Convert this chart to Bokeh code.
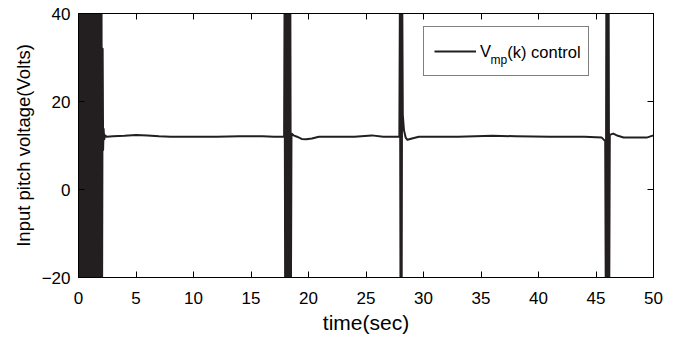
from bokeh.plotting import figure
from bokeh.models import (LinearAxis, FixedTicker, CustomJSTickFormatter, Legend,
                          LegendItem, Range1d)
from bokeh.core.properties import value
from bokeh.embed import file_html
from bokeh.resources import INLINE

# ---------------- data ----------------
x_ticks = [0, 5, 10, 15, 20, 25, 30, 35, 40, 45, 50]
y_ticks = [-20, 0, 20, 40]

# start-up oscillation burst (0 - 2.1 s)
time_burst0 = [0.00, 0.05, 0.10, 0.15, 0.20, 0.25, 0.30, 0.35, 0.40, 0.45, 0.50,
               0.55, 0.60, 0.65, 0.70, 0.75, 0.80, 0.85, 0.90, 0.95, 1.00, 1.05,
               1.10, 1.15, 1.20, 1.25, 1.30, 1.35, 1.40, 1.45, 1.50, 1.55, 1.60,
               1.65, 1.70, 1.75, 1.80, 1.85, 1.90, 1.95, 2.00, 2.05]
volt_burst0 = [45, -25, 45, -25, 45, -25, 45, -25, 45, -25, 45,
               -25, 45, -25, 45, -25, 45, -25, 45, -25, 45, -25,
               45, -25, 45, -25, 45, -25, 45, -25, 45, -25, 45,
               -25, 45, -25, 45, -25, 45, -25, 45, -25]
time_steady1 = [2.10, 2.14, 2.18, 2.24, 2.32, 2.45, 3.0, 4.0, 5.0, 6.0, 7.0,
                8.0, 10.0, 12.0, 14.0, 16.0, 17.0, 17.88]
volt_steady1 = [32, 9, 13.8, 11.4, 12.3, 12.0, 12.1, 12.2, 12.4, 12.3, 12.1,
                12.0, 12.0, 12.0, 12.1, 12.1, 12.0, 12.0]

# burst near 18 s
time_burst18 = [17.92, 17.97, 18.02, 18.07, 18.12, 18.17, 18.22, 18.27, 18.32,
                18.37, 18.42, 18.47]
volt_burst18 = [45, -25, 45, -25, 45, -25, 45, -25, 45, -25, 45, -25]
time_steady2 = [18.52, 18.7, 19.0, 19.4, 19.8, 20.3, 20.9, 22.0, 24.0, 25.5,
                26.5, 27.9]
volt_steady2 = [12.7, 12.3, 12.0, 11.5, 11.4, 11.6, 12.0, 12.0, 12.0, 12.3,
                12.0, 12.0]

# burst near 28 s
time_burst28 = [27.95, 28.00, 28.05, 28.10, 28.15]
volt_burst28 = [45, -25, 45, -25, 45]
time_steady3 = [28.2, 28.3, 28.45, 28.6, 29.0, 29.6, 31.0, 33.0, 36.0, 38.0,
                41.0, 44.0, 45.5, 45.8]
volt_steady3 = [17.0, 13.5, 11.8, 11.3, 11.6, 12.0, 12.0, 12.0, 12.2, 12.1,
                12.0, 12.0, 11.8, 11.0]

# burst near 46 s
time_burst46 = [45.85, 45.90, 45.95, 46.00, 46.05, 46.10, 46.15]
volt_burst46 = [-25, 45, -25, 45, -25, 45, -25]
time_steady4 = [46.2, 46.5, 46.9, 47.4, 48.5, 49.4, 50.0]
volt_steady4 = [12.4, 12.7, 12.2, 11.8, 11.8, 11.8, 12.3]

time_sec = (time_burst0 + time_steady1 + time_burst18 + time_steady2 +
            time_burst28 + time_steady3 + time_burst46 + time_steady4)
volt = (volt_burst0 + volt_steady1 + volt_burst18 + volt_steady2 +
        volt_burst28 + volt_steady3 + volt_burst46 + volt_steady4)

series_name = "V"
series_sub = "mp"
series_rest = "(k) control"

# ---------------- figure ----------------
FONT = "Liberation Sans"
INK = "#231f20"

p = figure(width=684, height=342, output_backend="svg", toolbar_location=None,
           x_range=Range1d(0, 50), y_range=Range1d(-20, 40),
           min_border_left=78, min_border_right=31, min_border_top=13,
           min_border_bottom=65,
           x_axis_label="time(sec)", y_axis_label="Input pitch voltage(Volts)")
p.background_fill_color = "white"
p.border_fill_color = "white"
p.outline_line_color = "black"
p.outline_line_width = 1
p.grid.visible = False

minus_fmt = CustomJSTickFormatter(
    code="return tick < 0 ? '\\u2212' + Math.abs(tick) : tick.toString();")

for ax, ticks in ((p.xaxis[0], x_ticks), (p.yaxis[0], y_ticks)):
    ax.ticker = FixedTicker(ticks=ticks)
    ax.formatter = minus_fmt
    ax.major_tick_in = 6
    ax.major_tick_out = 0
    ax.minor_tick_in = 0
    ax.minor_tick_out = 0
    ax.axis_line_color = "black"
    ax.major_tick_line_color = "black"
    ax.major_label_text_font = FONT
    ax.major_label_text_font_size = "17px"
    ax.major_label_text_color = "black"
    ax.axis_label_text_font = FONT
    ax.axis_label_text_font_style = "normal"
    ax.axis_label_text_color = "black"

p.xaxis.axis_label_text_font_size = "21px"
p.yaxis.axis_label_text_font_size = "18.5px"
p.xaxis.major_label_standoff = 14
p.xaxis.axis_label_standoff = 4
p.yaxis.major_label_standoff = 8
p.yaxis.axis_label_standoff = 5

# box ticks on top and right (no labels)
blank_fmt = CustomJSTickFormatter(code="return '';")
top_ax = LinearAxis(ticker=FixedTicker(ticks=x_ticks), formatter=blank_fmt,
                    major_tick_in=6, major_tick_out=0, minor_tick_in=0,
                    minor_tick_out=0, major_label_text_font_size="0px",
                    major_label_standoff=0, axis_line_color="black")
right_ax = LinearAxis(ticker=FixedTicker(ticks=y_ticks), formatter=blank_fmt,
                      major_tick_in=6, major_tick_out=0, minor_tick_in=0,
                      minor_tick_out=0, major_label_text_font_size="0px",
                      major_label_standoff=0, axis_line_color="black")
p.add_layout(top_ax, "above")
p.add_layout(right_ax, "right")

r = p.line(time_sec, volt, line_color=INK, line_width=2, line_join="round")

legend = Legend(items=[LegendItem(label=series_name, renderers=[r])],
                location=(345, 201), padding=10, margin=0, spacing=0,
                glyph_width=42, glyph_height=28, label_height=28,
                label_width=98, label_standoff=4,
                border_line_color="black", border_line_width=1,
                background_fill_alpha=0,
                label_text_font=FONT, label_text_font_size="16.5px",
                label_text_color="black")
p.add_layout(legend)

# rest of the legend entry (subscript + text) as text glyphs in data space
p.text(x=[35.83], y=[29.32], text=[series_sub], text_font=value(FONT),
       text_font_size=value("12px"), text_color="black",
       text_baseline="middle", text_align="left")
p.text(x=[37.28], y=[31.14], text=[series_rest], text_font=value(FONT),
       text_font_size=value("16.5px"), text_color="black",
       text_baseline="middle", text_align="left")

open("out.html", "w").write(file_html(p, INLINE))
